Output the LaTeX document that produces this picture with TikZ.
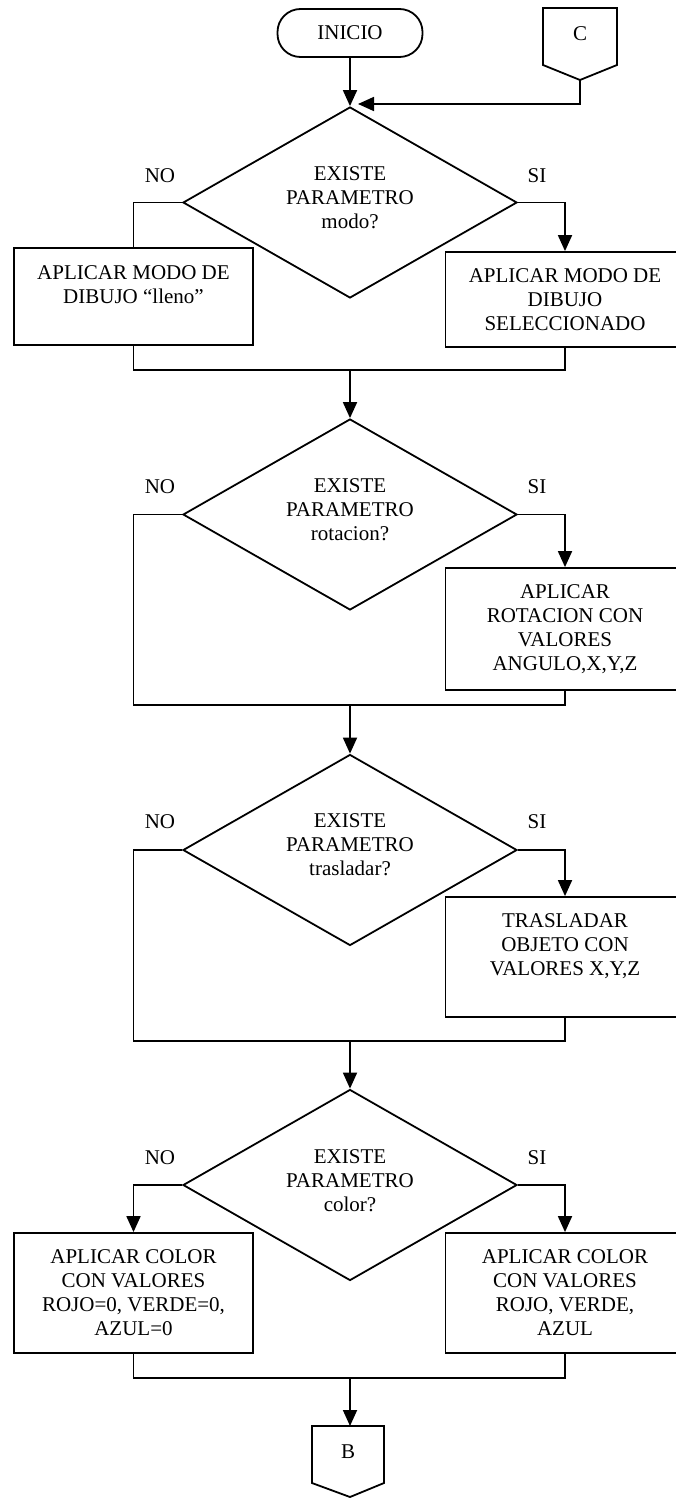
\documentclass[tikz,border=0pt]{standalone}
\usepackage{fontspec}
\setmainfont{Liberation Serif}
\usetikzlibrary{shapes.geometric,arrows.meta}
\begin{document}
\begin{tikzpicture}[x=1pt,y=-1pt,
  every node/.style={font=\fontsize{21}{24}\selectfont, inner sep=0pt, align=center},
  flow/.style={line width=1.8pt},
  arr/.style={flow,-{Triangle[width=14pt,length=16pt]}},
  box/.style={draw, line width=1.8pt, rectangle, minimum width=239pt},
  decision/.style={draw, line width=1.8pt, diamond, aspect=1.75,
    minimum width=334pt, minimum height=191pt},
  term/.style={draw, line width=1.8pt, rectangle, rounded corners=23pt,
    minimum width=145pt, minimum height=48pt},
  lbl/.style={}
]
\useasboundingbox (0,0) rectangle (676,1498);

% start and entry connector C
\node[term] (ini) at (350,33) {INICIO};
\draw[flow] (543,8) -- (617,8) -- (617,65) -- (580,80) -- (543,65) -- cycle;
\node (c) at (580,34) {C};
\coordinate (cpt) at (580,80);
\coordinate (cin) at (358,104);

% decision 1: modo
\node[decision] (d1) at (350,202.5) {};
\node (q1) at (350,198) {EXISTE\\PARAMETRO\\modo?};
\node[lbl] (no1) at (160,175.5) {NO};
\node[lbl] (si1) at (537,175.5) {SI};
\node[box, minimum height=97pt] (b1l) at (133.5,296.5) {APLICAR MODO DE\\DIBUJO “lleno”\\\mbox{}};
\node[box, minimum height=95pt] (b1r) at (565,299.5) {APLICAR MODO DE\\DIBUJO\\SELECCIONADO};
\coordinate (m1) at (350,370);

% decision 2: rotacion
\node[decision] (d2) at (350,514.5) {};
\node (q2) at (350,510) {EXISTE\\PARAMETRO\\rotacion?};
\node[lbl] (no2) at (160,487) {NO};
\node[lbl] (si2) at (537,487) {SI};
\node[box, minimum height=122pt] (b2r) at (565,629) {APLICAR\\ROTACION CON\\VALORES\\ANGULO,X,Y,Z};
\coordinate (l2) at (133.5,705);
\coordinate (m2) at (350,705);

% decision 3: trasladar
\node[decision] (d3) at (350,850) {};
\node (q3) at (350,845) {EXISTE\\PARAMETRO\\trasladar?};
\node[lbl] (no3) at (160,822) {NO};
\node[lbl] (si3) at (537,822) {SI};
\node[box, minimum height=120pt] (b3r) at (565,957) {TRASLADAR\\OBJETO CON\\VALORES X,Y,Z\\\mbox{}};
\coordinate (l3) at (133.5,1041);
\coordinate (m3) at (350,1041);

% decision 4: color
\node[decision] (d4) at (350,1185) {};
\node (q4) at (350,1181) {EXISTE\\PARAMETRO\\color?};
\node[lbl] (no4) at (160,1158) {NO};
\node[lbl] (si4) at (537,1158) {SI};
\node[box, minimum height=120pt] (b4l) at (133.5,1293) {APLICAR COLOR\\CON VALORES\\ROJO=0, VERDE=0,\\AZUL=0};
\node[box, minimum height=120pt] (b4r) at (565,1293) {APLICAR COLOR\\CON VALORES\\ROJO, VERDE,\\AZUL};
\coordinate (m4) at (350,1378);

% exit connector B
\draw[flow] (312,1426) -- (384,1426) -- (384,1483) -- (350,1497) -- (312,1483) -- cycle;
\node (b) at (348,1452) {B};
\coordinate (btop) at (350,1426);

% connectors
\draw[arr] (ini.south) -- (d1.north);
\draw[arr] (cpt) |- (cin);

\draw[flow] (d1.west) -| (b1l.north);
\draw[arr] (d1.east) -| (b1r.north);
\draw[flow] (b1l.south) |- (m1) -| (b1r.south);
\draw[arr] (m1) -- (d2.north);

\draw[flow] (d2.west) -| (l2) -| (b2r.south);
\draw[arr] (d2.east) -| (b2r.north);
\draw[arr] (m2) -- (d3.north);

\draw[flow] (d3.west) -| (l3) -| (b3r.south);
\draw[arr] (d3.east) -| (b3r.north);
\draw[arr] (m3) -- (d4.north);

\draw[arr] (d4.west) -| (b4l.north);
\draw[arr] (d4.east) -| (b4r.north);
\draw[flow] (b4l.south) |- (m4) -| (b4r.south);
\draw[arr] (m4) -- (btop);
\end{tikzpicture}
\end{document}
